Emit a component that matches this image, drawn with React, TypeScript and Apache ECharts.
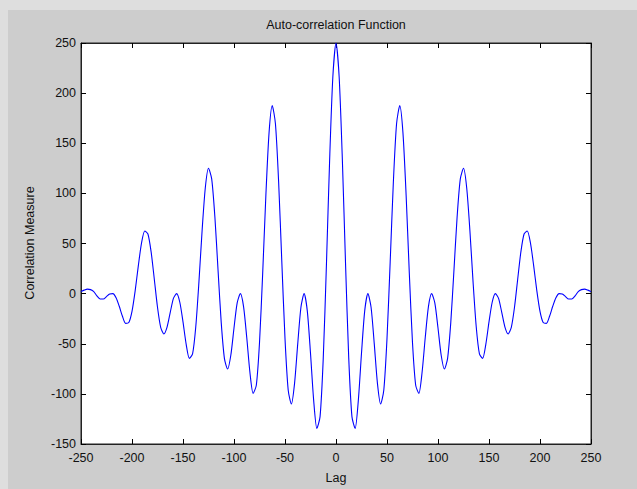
import React, { useEffect, useRef } from "react";
import * as echarts from "echarts";

const TITLE = "Auto-correlation Function";
const X_NAME = "Lag";
const Y_NAME = "Correlation Measure";

const LAGS = [
  -250, -246.875, -243.75, -240.625, -237.5, -234.375, -231.25, -228.125,
  -225, -221.875, -218.75, -215.625, -212.5, -209.375, -206.25, -203.125,
  -200, -196.875, -193.75, -190.625, -187.5, -184.375, -181.25, -178.125,
  -175, -171.875, -168.75, -165.625, -162.5, -159.375, -156.25, -153.125,
  -150, -146.875, -143.75, -140.625, -137.5, -134.375, -131.25, -128.125,
  -125, -121.875, -118.75, -115.625, -112.5, -109.375, -106.25, -103.125,
  -100, -96.875, -93.75, -90.625, -87.5, -84.375, -81.25, -78.125,
  -75, -71.875, -68.75, -65.625, -62.5, -59.375, -56.25, -53.125,
  -50, -46.875, -43.75, -40.625, -37.5, -34.375, -31.25, -28.125,
  -25, -21.875, -18.75, -15.625, -12.5, -9.375, -6.25, -3.125,
  0,
  3.125, 6.25, 9.375, 12.5, 15.625, 18.75, 21.875, 25,
  28.125, 31.25, 34.375, 37.5, 40.625, 43.75, 46.875, 50,
  53.125, 56.25, 59.375, 62.5, 65.625, 68.75, 71.875, 75,
  78.125, 81.25, 84.375, 87.5, 90.625, 93.75, 96.875, 100,
  103.125, 106.25, 109.375, 112.5, 115.625, 118.75, 121.875, 125,
  128.125, 131.25, 134.375, 137.5, 140.625, 143.75, 146.875, 150,
  153.125, 156.25, 159.375, 162.5, 165.625, 168.75, 171.875, 175,
  178.125, 181.25, 184.375, 187.5, 190.625, 193.75, 196.875, 200,
  203.125, 206.25, 209.375, 212.5, 215.625, 218.75, 221.875, 225,
  228.125, 231.25, 234.375, 237.5, 240.625, 243.75, 246.875, 250,
];

const CORR = [
  2, 3.5, 4.5, 4.0, 2.1, -2.3, -5.3, -5.4, -3.0, -0.3,
  0, -4.1, -12.6, -22.6, -29.7, -28.9, -17.7, 3.0, 28.2, 50.6,
  62.5, 59.5, 41.6, 14.4, -13.6, -33.6, -40.2, -33.4, -18.7, -4.7,
  0, -8.6, -28.2, -50.6, -64.6, -60.2, -33.3, 11.7, 63.2, 105.6,
  125, 114.5, 76.6, 23.1, -29.2, -64.8, -75.2, -61.5, -34.3, -9.2,
  0, -13.0, -43.8, -78.7, -99.5, -91.4, -49.0, 20.4, 98.1, 160.6,
  187.5, 169.5, 111.5, 31.8, -44.8, -96.1, -110.1, -89.5, -49.9, -13.6,
  0, -17.5, -59.5, -106.7, -134.5, -122.7, -64.6, 29.1, 133.1, 215.6,
  250,
  215.6, 133.1, 29.1, -64.6, -122.7, -134.5, -106.7, -59.5, -17.5, 0,
  -13.6, -49.9, -89.5, -110.1, -96.1, -44.8, 31.8, 111.5, 169.5, 187.5,
  160.6, 98.1, 20.4, -49.0, -91.4, -99.5, -78.7, -43.8, -13.0, 0,
  -9.2, -34.3, -61.5, -75.2, -64.8, -29.2, 23.1, 76.6, 114.5, 125,
  105.6, 63.2, 11.7, -33.3, -60.2, -64.6, -50.6, -28.2, -8.6, 0,
  -4.7, -18.7, -33.4, -40.2, -33.6, -13.6, 14.4, 41.6, 59.5, 62.5,
  50.6, 28.2, 3.0, -17.7, -28.9, -29.7, -22.6, -12.6, -4.1, 0,
  -0.3, -3.0, -5.4, -5.3, -2.3, 2.1, 4.0, 4.5, 3.5, 2,
];

const X_MIN = -250;
const X_MAX = 250;
const X_STEP = 50;
const Y_MIN = -150;
const Y_MAX = 250;
const Y_STEP = 50;

const FONT = "Arimo, 'Liberation Sans', Arial, sans-serif";

export default function App() {
  const ref = useRef<HTMLDivElement>(null);

  useEffect(() => {
    if (!ref.current) return;
    const chart = echarts.init(ref.current, null, { renderer: "svg" });
    const data = LAGS.map((l, i) => [l, CORR[i]]);
    const tickInside = { show: true, inside: true, length: 5, lineStyle: { color: "#000", width: 1 } };
    const axisLine = { show: true, onZero: false, lineStyle: { color: "#222", width: 1 } };
    const labelStyle = { color: "#111", fontSize: 12.5, fontFamily: FONT };
    chart.setOption({
      animation: false,
      backgroundColor: "#cdcdcd",
      grid: {
        left: 81,
        right: 46,
        top: 43,
        bottom: 45,
        show: true,
        backgroundColor: "#ffffff",
        borderColor: "#222",
        borderWidth: 1,
      },
      xAxis: [
        {
          type: "value",
          min: X_MIN,
          max: X_MAX,
          interval: X_STEP,
          position: "bottom",
          axisLine,
          axisTick: tickInside,
          splitLine: { show: false },
          axisLabel: { ...labelStyle, margin: 7 },
        },
        {
          type: "value",
          min: X_MIN,
          max: X_MAX,
          interval: X_STEP,
          position: "top",
          axisLine,
          axisTick: tickInside,
          splitLine: { show: false },
          axisLabel: { show: false },
        },
      ],
      yAxis: [
        {
          type: "value",
          min: Y_MIN,
          max: Y_MAX,
          interval: Y_STEP,
          position: "left",
          axisLine,
          axisTick: tickInside,
          splitLine: { show: false },
          axisLabel: { ...labelStyle, margin: 5 },
        },
        {
          type: "value",
          min: Y_MIN,
          max: Y_MAX,
          interval: Y_STEP,
          position: "right",
          axisLine,
          axisTick: tickInside,
          splitLine: { show: false },
          axisLabel: { show: false },
        },
      ],
      graphic: [
        { type: "rect", shape: { x: 0, y: 0, width: 637, height: 10 }, style: { fill: "#dedede" }, silent: true },
        { type: "rect", shape: { x: 0, y: 0, width: 8, height: 489 }, style: { fill: "#dedede" }, silent: true },
        {
          type: "text",
          x: 336,
          y: 25,
          style: { text: TITLE, fill: "#111", font: `12.5px ${FONT}`, textAlign: "center", textVerticalAlign: "middle" },
        },
        {
          type: "text",
          x: 336,
          y: 478,
          style: { text: X_NAME, fill: "#111", font: `12.5px ${FONT}`, textAlign: "center", textVerticalAlign: "middle" },
        },
        {
          type: "text",
          x: 30,
          y: 243,
          rotation: Math.PI / 2,
          style: { text: Y_NAME, fill: "#111", font: `12.5px ${FONT}`, textAlign: "center", textVerticalAlign: "middle" },
        },
      ],
      series: [
        {
          type: "line",
          xAxisIndex: 0,
          yAxisIndex: 0,
          data,
          showSymbol: false,
          smooth: 0.25,
          lineStyle: { color: "#0000ff", width: 1.1 },
          itemStyle: { color: "#0000ff" },
        },
      ],
    });
    return () => chart.dispose();
  }, []);

  return (
    <div
      ref={ref}
      style={{ position: "fixed", left: 0, top: 0, width: 637, height: 489 }}
    />
  );
}
